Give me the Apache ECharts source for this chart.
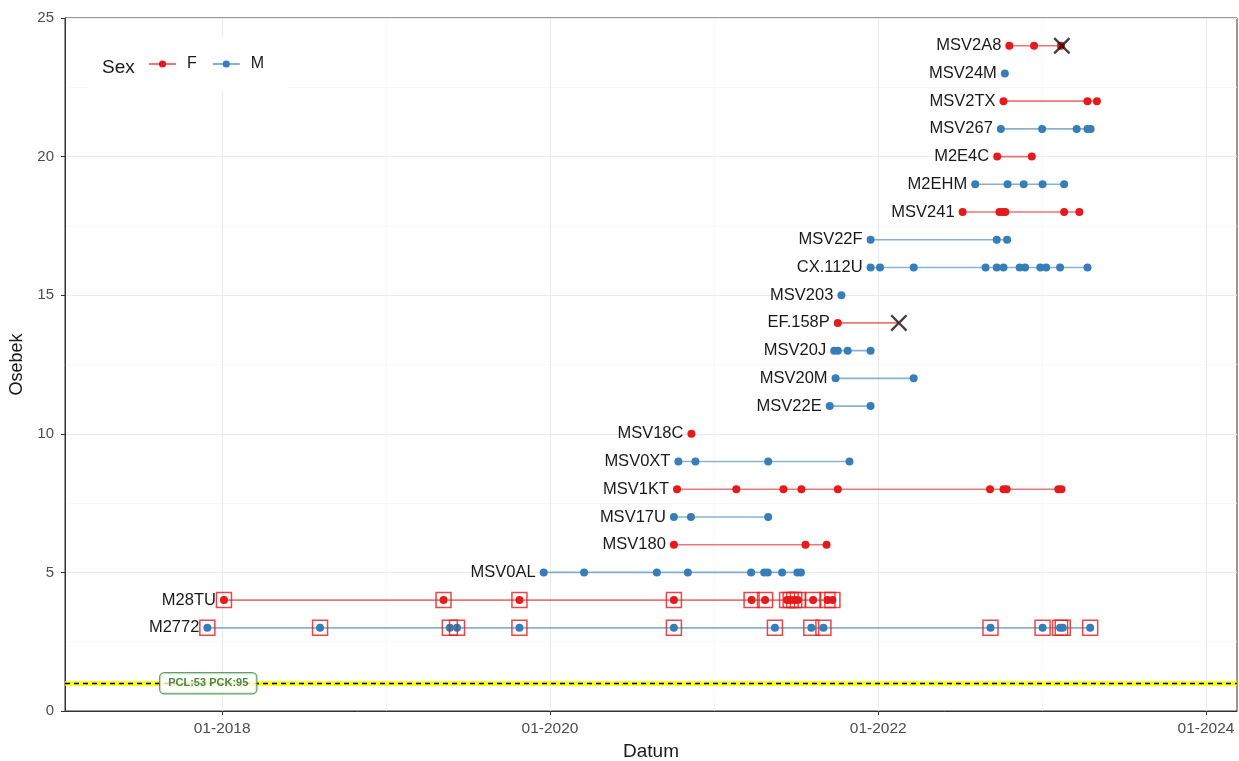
<!DOCTYPE html>
<html>
<head>
<meta charset="utf-8">
<script src="https://cdn.jsdelivr.net/npm/echarts@6/dist/echarts.min.js"></script>
<style>html,body{margin:0;padding:0;background:#fff;}#c{width:1239px;height:761px;}</style>
</head>
<body>
<div id="c"></div>
<script>
// ---- data ----
const individuals = ['M2772','M28TU','MSV0AL','MSV180','MSV17U','MSV1KT','MSV0XT','MSV18C','MSV22E','MSV20M','MSV20J','EF.158P','MSV203','CX.112U','MSV22F','MSV241','M2EHM','M2E4C','MSV267','MSV2TX','MSV24M','MSV2A8'];
const sexes = ['M','F','M','F','M','F','M','F','M','M','M','F','M','M','M','F','M','F','M','F','M','F'];
const rows = [3,4,5,6,7,8,9,10,11,12,13,14,15,16,17,18,19,20,21,22,23,24];
const visits = [
  ['2017-11-29','2018-08-07','2019-05-23','2019-06-08','2019-10-25','2020-10-03','2021-05-16','2021-08-05','2021-09-01','2022-09-08','2023-01-02','2023-02-10','2023-02-16','2023-04-18'],
  ['2018-01-05','2019-05-09','2019-10-25','2020-10-03','2021-03-25','2021-04-24','2021-06-12','2021-06-20','2021-06-28','2021-07-06','2021-08-09','2021-09-10','2021-09-21'],
  ['2019-12-18','2020-03-17','2020-08-26','2020-11-03','2021-03-24','2021-04-22','2021-04-30','2021-06-01','2021-07-05','2021-07-13'],
  ['2020-10-03','2021-07-23','2021-09-08'],
  ['2020-10-03','2020-11-10','2021-05-01'],
  ['2020-10-10','2021-02-19','2021-06-04','2021-07-14','2021-10-03','2022-09-07','2022-10-07','2022-10-14','2023-02-06','2023-02-13'],
  ['2020-10-13','2020-11-20','2021-05-01','2021-10-29'],
  ['2020-11-11'],
  ['2021-09-15','2021-12-15'],
  ['2021-09-28','2022-03-21'],
  ['2021-09-25','2021-10-03','2021-10-25','2021-12-15'],
  ['2021-10-03'],
  ['2021-10-11'],
  ['2021-12-15','2022-01-05','2022-03-21','2022-08-28','2022-09-22','2022-10-07','2022-11-12','2022-11-24','2022-12-28','2023-01-10','2023-02-10','2023-04-12'],
  ['2021-12-15','2022-09-22','2022-10-15'],
  ['2022-07-08','2022-09-28','2022-10-05','2022-10-11','2023-02-19','2023-03-25'],
  ['2022-08-05','2022-10-16','2022-11-21','2023-01-02','2023-02-19'],
  ['2022-09-23','2022-12-09'],
  ['2022-10-01','2023-01-01','2023-03-19','2023-04-12','2023-04-19'],
  ['2022-10-07','2023-04-12','2023-05-03'],
  ['2022-10-10'],
  ['2022-10-20','2022-12-14','2023-02-12']
];
const deathNames = ['EF.158P','MSV2A8'];
const deathDates = ['2022-02-16','2023-02-14'];
const squaredNames = ['M2772','M28TU'];
const thresholdY = 1;
const thresholdLabel = 'PCL:53 PCK:95';
const thresholdLabelDate = '2017-12-01';
const xMajorTicks = ['2018-01-01','2020-01-01','2022-01-01','2024-01-01'];
const xMinorTicks = ['2019-01-01','2021-01-01','2023-01-01'];
const xRange = ['2017-01-16','2024-03-10'];

// ---- helpers ----
function ts(s){const p=s.split('-').map(Number);return new Date(p[0],p[1]-1,p[2]).getTime();}
const RED='#E41A1C', BLUE='#377EB8';
const RED_L='rgba(228,26,28,0.6)', BLUE_L='rgba(55,126,184,0.6)';
const FONT='Liberation Sans, Arial, sans-serif';

const series = [];
series.push({
  type:'line', name:'_grid', data:[], silent:true, z:0,
  markLine:{silent:true, z:0, symbol:'none', label:{show:false}, animation:false,
    data: xMajorTicks.map(d=>({xAxis:ts(d), lineStyle:{color:'#EBEBEB',width:1.1,type:'solid'}}))
      .concat(xMinorTicks.map(d=>({xAxis:ts(d), lineStyle:{color:'#F4F4F4',width:0.6,type:'solid'}})))
  }
});
series.push({
  type:'line', name:'_thr', data:[], silent:true, z:1,
  markLine:{silent:true, z:1, symbol:'none', label:{show:false}, animation:false,
    data:[
      {yAxis:thresholdY, lineStyle:{color:'#FFFF00',width:4.5,type:'solid'}},
      {yAxis:thresholdY, lineStyle:{color:'#000000',width:1.3,type:[5,4]}}
    ]}
});
series.push({
  type:'scatter', name:'_thrlab', silent:true, z:5, symbolSize:0,
  data:[[ts(thresholdLabelDate), thresholdY]],
  label:{show:true, position:'inside', formatter:thresholdLabel, backgroundColor:'#fff',
    borderColor:'#3B8A3B', borderWidth:1.2, borderRadius:4, padding:[5,8,4,8],
    color:'#1E6B1E', fontWeight:'bold', fontSize:11, fontFamily:FONT}
});

individuals.forEach((name,i)=>{
  const sex = sexes[i];
  const y = rows[i];
  const col = sex==='F'?RED:BLUE;
  const lcol = sex==='F'?RED_L:BLUE_L;
  const data = visits[i].map((d,k)=>{
    const o = {value:[ts(d),y]};
    if(k===0){
      o.label = {show:true, position:'left', distance:4, formatter:name, color:'#1A1A1A', fontSize:16.5, fontFamily:FONT};
    }
    return o;
  });
  const di = deathNames.indexOf(name);
  if(di>=0){ data.push({value:[ts(deathDates[di]),y], symbol:'none'}); }
  series.push({
    type:'line', name:sex, data:data, symbol:'circle', symbolSize:8, showSymbol:true, showAllSymbol:true,
    itemStyle:{color:col}, lineStyle:{color:lcol,width:1.6}, z:3, animation:false, emphasis:{disabled:true}
  });
});
const sq = [];
squaredNames.forEach(n=>{const i=individuals.indexOf(n); visits[i].forEach(d=>sq.push([ts(d),rows[i]]));});
series.push({type:'scatter', name:'_sq', data:sq, symbol:'rect', symbolSize:15, z:4, silent:true,
  itemStyle:{color:'rgba(0,0,0,0)', borderColor:RED, borderWidth:1.5}});
series.push({type:'scatter', name:'_x', silent:true, z:6,
  data: deathNames.map((n,k)=>[ts(deathDates[k]), rows[individuals.indexOf(n)]]),
  symbol:'path://M0,1L1,0L5,4L9,0L10,1L6,5L10,9L9,10L5,6L1,10L0,9L4,5Z', symbolSize:17,
  itemStyle:{color:'#111'}});

const chart = echarts.init(document.getElementById('c'), null, {renderer:'canvas'});
chart.setOption({
  animation:false,
  backgroundColor:'#fff',
  textStyle:{fontFamily:FONT},
  title:{text:'Sex', left:97, top:53, textStyle:{fontSize:19, fontWeight:'normal', color:'#1A1A1A', fontFamily:FONT}, z:10},
  legend:{data:['F','M'], left:88, top:37, orient:'horizontal', backgroundColor:'#fff', z:8,
    padding:[19,22,19,60], itemWidth:27, itemHeight:9, itemGap:15,
    textStyle:{fontSize:16,color:'#1A1A1A', padding:[0,0,0,6], fontFamily:FONT}, selectedMode:false},
  grid:{left:65, right:2, top:18, bottom:50, show:true, borderColor:'#333', borderWidth:1,
    containLabel:false, outerBoundsMode:'none'},
  xAxis:{type:'value', min:ts(xRange[0]), max:ts(xRange[1]),
    name:'Datum', nameLocation:'middle', nameGap:31, nameTextStyle:{fontSize:19,color:'#1A1A1A', fontFamily:FONT},
    axisLine:{show:true, onZero:false, lineStyle:{color:'#333'}},
    axisTick:{show:true, length:4, lineStyle:{color:'#333'}, customValues:xMajorTicks.map(ts)},
    axisLabel:{color:'#4D4D4D', fontSize:15.5, margin:10, fontFamily:FONT, customValues:xMajorTicks.map(ts),
      formatter:function(v){const d=new Date(v);return ('0'+(d.getMonth()+1)).slice(-2)+'-'+d.getFullYear();}},
    splitLine:{show:false}},
  yAxis:{type:'value', min:0, max:25, interval:5,
    name:'Osebek', nameLocation:'middle', nameGap:38, nameTextStyle:{fontSize:18,color:'#1A1A1A', fontFamily:FONT},
    axisLine:{show:true, onZero:false, lineStyle:{color:'#333'}},
    axisTick:{show:true, length:4, lineStyle:{color:'#333'}},
    axisLabel:{color:'#4D4D4D', fontSize:15, margin:11, fontFamily:FONT},
    splitLine:{show:true, lineStyle:{color:'#EBEBEB', width:1.1}},
    minorTick:{show:false, splitNumber:2},
    minorSplitLine:{show:true, lineStyle:{color:'#F4F4F4', width:0.6}}},
  series:series
});
</script>
</body>
</html>
